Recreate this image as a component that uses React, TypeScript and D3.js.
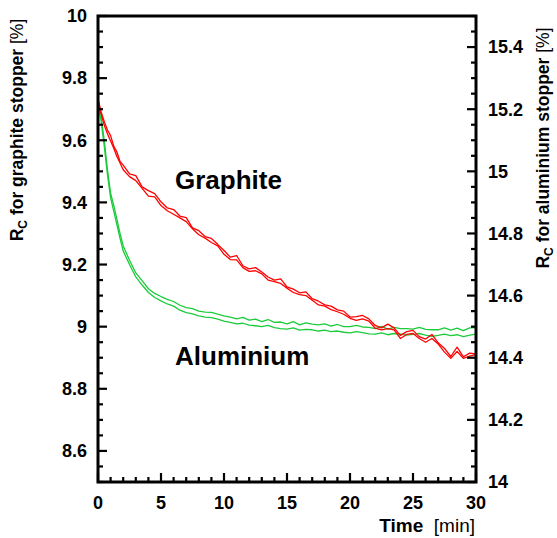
import React from 'react';
import * as d3 from 'd3';

// time axis in minutes (finer at the start where aluminium drops fast)
const time = [
  0, 0.25, 0.5, 0.75, 1, 1.25, 1.5, 1.75, 2,
  2.5, 3, 3.5, 4, 4.5, 5, 5.5, 6, 6.5, 7, 7.5, 8, 8.5, 9, 9.5, 10,
  10.5, 11, 11.5, 12, 12.5, 13, 13.5, 14, 14.5, 15, 15.5, 16, 16.5, 17, 17.5, 18,
  18.5, 19, 19.5, 20, 20.5, 21, 21.5, 22, 22.5, 23, 23.5, 24, 24.5, 25,
  25.5, 26, 26.5, 27, 27.5, 28, 28.5, 29, 29.5, 30,
];

// graphite stopper, left axis [%]
const graphiteRunA = [
  9.733, 9.691, 9.660, 9.633, 9.615, 9.581, 9.562, 9.532, 9.520,
  9.492, 9.486, 9.450, 9.438, 9.428, 9.402, 9.382, 9.377, 9.356, 9.351, 9.318, 9.309, 9.290, 9.284, 9.265, 9.245,
  9.224, 9.229, 9.196, 9.186, 9.190, 9.176, 9.160, 9.150, 9.154, 9.128, 9.121, 9.109, 9.112, 9.090, 9.082, 9.070,
  9.066, 9.054, 9.050, 9.031, 9.032, 9.036, 9.025, 9.004, 8.996, 9.008, 8.996, 8.972, 8.984, 8.988,
  8.968, 8.960, 8.975, 8.948, 8.930, 8.904, 8.934, 8.903, 8.915, 8.912,
];
const graphiteRunB = [
  9.728, 9.684, 9.648, 9.621, 9.598, 9.574, 9.548, 9.527, 9.505,
  9.483, 9.470, 9.445, 9.420, 9.418, 9.390, 9.373, 9.362, 9.350, 9.338, 9.315, 9.296, 9.285, 9.271, 9.260, 9.233,
  9.216, 9.215, 9.190, 9.178, 9.180, 9.170, 9.150, 9.145, 9.139, 9.124, 9.110, 9.103, 9.100, 9.085, 9.070, 9.066,
  9.055, 9.048, 9.040, 9.027, 9.020, 9.025, 9.018, 8.995, 8.990, 8.994, 8.990, 8.962, 8.975, 8.978,
  8.962, 8.950, 8.962, 8.944, 8.918, 8.898, 8.920, 8.898, 8.905, 8.910,
];

// aluminium stopper, right axis [%]
const aluminiumRunA = [
  15.230, 15.175, 15.098, 15.006, 14.930, 14.890, 14.846, 14.800, 14.760,
  14.714, 14.673, 14.648, 14.622, 14.607, 14.597, 14.588, 14.581, 14.569, 14.561, 14.558,
  14.550, 14.547, 14.546, 14.540, 14.535, 14.531, 14.525, 14.530, 14.521, 14.524,
  14.516, 14.523, 14.514, 14.515, 14.509, 14.516, 14.506, 14.512, 14.508, 14.506,
  14.509, 14.502, 14.507, 14.500, 14.500, 14.504, 14.499, 14.498, 14.494, 14.501,
  14.492, 14.498, 14.494, 14.494, 14.492, 14.498, 14.491, 14.490, 14.490, 14.496,
  14.489, 14.495, 14.487, 14.496, 14.497,
];
const aluminiumRunB = [
  15.222, 15.160, 15.080, 14.990, 14.915, 14.872, 14.828, 14.784, 14.744,
  14.700, 14.660, 14.634, 14.610, 14.594, 14.583, 14.573, 14.566, 14.553, 14.545, 14.541,
  14.535, 14.531, 14.529, 14.524, 14.518, 14.514, 14.509, 14.511, 14.505, 14.503,
  14.500, 14.504, 14.497, 14.494, 14.492, 14.496, 14.489, 14.491, 14.490, 14.486,
  14.489, 14.484, 14.486, 14.482, 14.480, 14.484, 14.481, 14.477, 14.476, 14.480,
  14.474, 14.478, 14.476, 14.473, 14.475, 14.478, 14.473, 14.469, 14.472, 14.476,
  14.471, 14.474, 14.468, 14.473, 14.476,
];

const xTicks = [0, 5, 10, 15, 20, 25, 30];
const leftTicks = [8.6, 8.8, 9, 9.2, 9.4, 9.6, 9.8, 10];
const rightTicks = [14, 14.2, 14.4, 14.6, 14.8, 15, 15.2, 15.4];

const FONT = '"Liberation Sans", Arial, Helvetica, sans-serif';
const RED = '#ff0000';
const GREEN = '#1ccb3c';

const width = 557;
const height = 538;
const left = 98, right = 476, top = 16, bottom = 482;

export default function App() {
  const x = d3.scaleLinear().domain([0, 30]).range([left, right]);
  const yLeft = d3.scaleLinear().domain([8.5, 10]).range([bottom, top]);
  const yRight = d3.scaleLinear().domain([14, 15.5]).range([bottom, top]);

  const lineLeft = d3.line<number>().x((d, i) => x(time[i])).y(d => yLeft(d));
  const lineRight = d3.line<number>().x((d, i) => x(time[i])).y(d => yRight(d));

  const curves = [
    { data: aluminiumRunA, line: lineRight, color: GREEN },
    { data: aluminiumRunB, line: lineRight, color: GREEN },
    { data: graphiteRunA, line: lineLeft, color: RED },
    { data: graphiteRunB, line: lineLeft, color: RED },
  ];

  // minor tick positions every 0.05 % and every minute
  const minorY = d3.range(8.5, 10.001, 0.05);
  const minorYR = d3.range(14, 15.501, 0.05);
  const minorX = d3.range(0, 30.001, 1);
  const isMajor = (list: number[], v: number) => list.some(t => Math.abs(t - v) < 1e-6);

  const tickStyle = { stroke: '#000', strokeWidth: 2.2 };
  const labelStyle = { fontFamily: FONT, fontSize: 18, fontWeight: 'bold' as const };

  return (
    <svg width={width} height={height} style={{ position: 'absolute', left: 0, top: 0, background: '#fff' }}>
      {curves.map((c, i) => (
        <path key={i} d={c.line(c.data) || ''} fill="none" stroke={c.color} strokeWidth={1.3} strokeLinejoin="round" />
      ))}

      <rect x={left} y={top} width={right - left} height={bottom - top} fill="none" stroke="#000" strokeWidth={3} />

      {minorY.map((v, i) => (
        <line key={'l' + i} x1={left} x2={left + (isMajor(leftTicks, v) ? 9 : 5)} y1={yLeft(v)} y2={yLeft(v)} {...tickStyle} />
      ))}
      {minorYR.map((v, i) => (
        <line key={'r' + i} x1={right} x2={right - (isMajor(rightTicks, v) ? 9 : 5)} y1={yRight(v)} y2={yRight(v)} {...tickStyle} />
      ))}
      {minorX.map((v, i) => (
        <line key={'b' + i} x1={x(v)} x2={x(v)} y1={bottom} y2={bottom - (isMajor(xTicks, v) ? 9 : 5)} {...tickStyle} />
      ))}

      {leftTicks.map(v => (
        <text key={'tl' + v} x={left - 11} y={yLeft(v)} dy="0.35em" textAnchor="end" {...labelStyle}>{String(v)}</text>
      ))}
      {rightTicks.map(v => (
        <text key={'tr' + v} x={right + 12} y={yRight(v)} dy="0.35em" textAnchor="start" {...labelStyle}>{String(v)}</text>
      ))}
      {xTicks.map(v => (
        <text key={'tb' + v} x={x(v)} y={bottom + 27} textAnchor="middle" {...labelStyle}>{String(v)}</text>
      ))}

      <text transform={`translate(23,130) rotate(-90)`} textAnchor="middle" fontFamily={FONT} fontSize={17.5} fontWeight="bold">
        <tspan>R</tspan>
        <tspan dy={4} fontSize={12}>C</tspan>
        <tspan dy={-4}> for graphite stopper </tspan>
        <tspan fontWeight="normal">[%]</tspan>
      </text>
      <text transform={`translate(549,148) rotate(-90)`} textAnchor="middle" fontFamily={FONT} fontSize={17.5} fontWeight="bold">
        <tspan>R</tspan>
        <tspan dy={4} fontSize={12}>C</tspan>
        <tspan dy={-4}> for aluminium stopper </tspan>
        <tspan fontWeight="normal">[%]</tspan>
      </text>

      <text x={475} y={532} textAnchor="end" fontFamily={FONT} fontSize={19} style={{ whiteSpace: 'pre' }}>
        <tspan fontWeight="bold">{'Time  '}</tspan>
        <tspan>[min]</tspan>
      </text>

      <text x={175} y={189} fontFamily={FONT} fontSize={26} fontWeight="bold">Graphite</text>
      <text x={175} y={365} fontFamily={FONT} fontSize={26} fontWeight="bold">Aluminium</text>
    </svg>
  );
}
